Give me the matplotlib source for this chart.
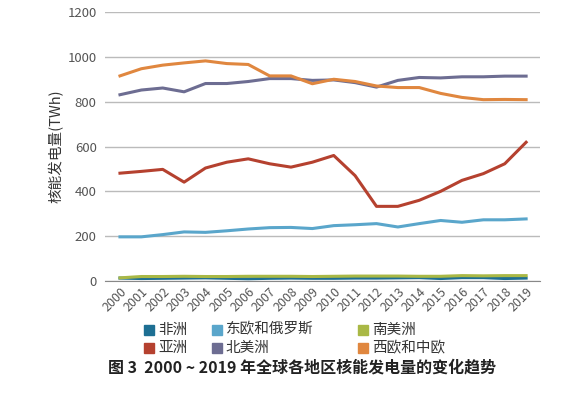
import matplotlib.pyplot as plt
from matplotlib.patches import Rectangle

plt.rcParams['font.family'] = ['Noto Sans CJK SC', 'DejaVu Sans']

years = list(range(2000, 2020))

# 各地区核能发电量 (TWh)
feizhou = [13, 11, 12, 13, 14, 12, 10, 12, 13, 12, 12, 13, 13, 14, 15, 11, 15, 15, 11, 13]
dongou = [197, 197, 207, 219, 217, 224, 232, 238, 239, 234, 247, 251, 256, 241, 256, 270, 262, 273, 273, 277]
nanmei = [14, 20, 20, 21, 20, 20, 21, 21, 21, 20, 21, 22, 22, 22, 21, 21, 24, 23, 24, 24]
yazhou = [481, 489, 498, 441, 504, 530, 545, 523, 508, 530, 560, 470, 333, 333, 360, 400, 449, 479, 523, 619]
beimei = [831, 852, 861, 844, 881, 881, 890, 903, 903, 895, 897, 885, 865, 895, 908, 906, 911, 911, 914, 914]
xiou = [915, 947, 963, 973, 982, 970, 966, 915, 915, 880, 900, 890, 870, 863, 863, 837, 819, 809, 810, 809]

nombres = ['非洲', '东欧和俄罗斯', '南美洲', '亚洲', '北美洲', '西欧和中欧']
colores = ['#1d6f93', '#5aa6cb', '#a9b845', '#b5412f', '#6d6d92', '#e0873f']
series = [feizhou, dongou, nanmei, yazhou, beimei, xiou]

fig = plt.figure(figsize=(5.85, 3.94), dpi=100)
ax = fig.add_axes([0.1795, 0.2868, 0.7436, 0.6827])

for s, c in zip(series, colores):
    ax.plot(years, s, color=c, linewidth=2.2, solid_joinstyle='round')

ax.set_ylim(0, 1200)
ax.set_xlim(1999.3, 2019.65)
ax.set_yticks([0, 200, 400, 600, 800, 1000, 1200])
ax.set_xticks(years)
ax.set_xticklabels([str(y) for y in years], rotation=45, ha='right',
                   rotation_mode='anchor', fontsize=9, color='#555555')
ax.tick_params(axis='y', labelsize=9.5, colors='#555555', length=0, pad=6)
ax.tick_params(axis='x', length=0, pad=3)
ax.grid(axis='y', color='#bbbbbb', linewidth=1)
ax.set_axisbelow(True)
for lado in ['top', 'right', 'left']:
    ax.spines[lado].set_visible(False)
ax.spines['bottom'].set_color('#888888')
ax.set_ylabel('核能发电量(TWh)', fontsize=10.5, color='#333333', labelpad=3)

# leyenda manual
pos_x = [0.246, 0.362, 0.612]
pos_y = [0.163, 0.117]
for i, (n, c) in enumerate(zip(nombres, colores)):
    fila = i // 3
    col = i % 3
    fig.patches.append(Rectangle((pos_x[col], pos_y[fila] - 0.013), 0.017, 0.026,
                                 color=c, transform=fig.transFigure))
    fig.text(pos_x[col] + 0.024, pos_y[fila], n, fontsize=10.5, va='center', color='#333333')

fig.text(0.185, 0.066, '图 3  2000 ~ 2019 年全球各地区核能发电量的变化趋势',
         fontsize=11.5, fontweight='bold', color='#222222', va='center')

plt.savefig('out.png', dpi=100)
